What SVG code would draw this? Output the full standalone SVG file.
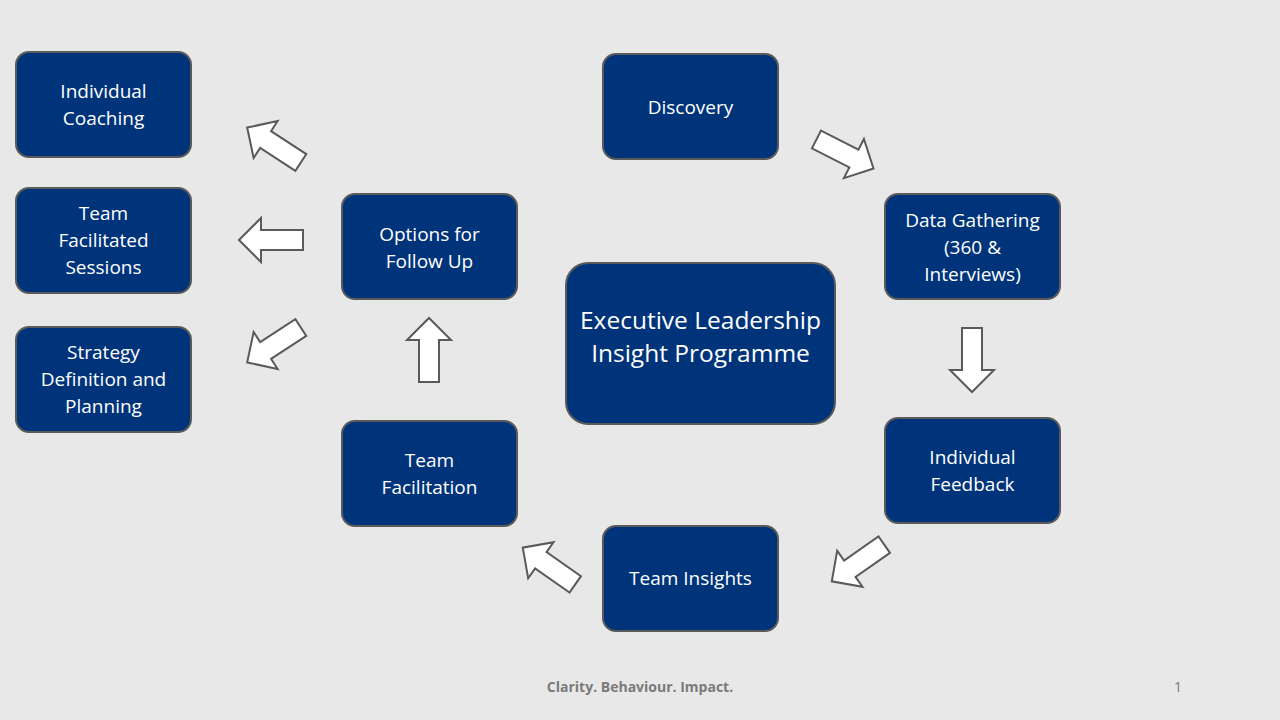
<svg xmlns="http://www.w3.org/2000/svg" width="1280" height="720" viewBox="0 0 1280 720">
<style>
.n{fill:#00347A;stroke:#5a5a5a;stroke-width:2}
.t{fill:#fff;font-family:"Open Sans","Noto Sans",sans-serif;font-size:19px;text-anchor:middle}
.c{font-size:24.5px}
.a{fill:#fff;stroke:#5a5a5a;stroke-width:2;stroke-linejoin:miter}
.f{fill:#7a7a7a;font-family:"Open Sans","Noto Sans",sans-serif;font-size:14px;font-weight:bold;text-anchor:middle}
</style>
<defs><path id="ar" d="M-32,-10 H10 V-22 L32,0 L10,22 V10 H-32 Z"/></defs>
<rect width="1280" height="720" fill="#E8E8E8"/>
<g id="connectors">
<use href="#ar" class="a" transform="translate(845,154) rotate(27)"/>
<use href="#ar" class="a" transform="translate(972,360) rotate(90)"/>
<use href="#ar" class="a" transform="translate(858,563) rotate(145)"/>
<use href="#ar" class="a" transform="translate(549,566) rotate(-145)"/>
<use href="#ar" class="a" transform="translate(429,350) rotate(-90)"/>
<use href="#ar" class="a" transform="translate(274,145) rotate(-147)"/>
<use href="#ar" class="a" transform="translate(271,240) rotate(180)"/>
<use href="#ar" class="a" transform="translate(274,345) rotate(147)"/>
</g>
<g id="ic"><rect class="n" x="16" y="52" width="175" height="105" rx="13"/><text class="t" x="103.5" y="98">Individual</text><text class="t" x="103.5" y="125">Coaching</text></g>
<g id="tfs"><rect class="n" x="16" y="188" width="175" height="105" rx="13"/><text class="t" x="103.5" y="220">Team</text><text class="t" x="103.5" y="247">Facilitated</text><text class="t" x="103.5" y="274">Sessions</text></g>
<g id="sdp"><rect class="n" x="16" y="327" width="175" height="105" rx="13"/><text class="t" x="103.5" y="359">Strategy</text><text class="t" x="103.5" y="386">Definition and</text><text class="t" x="103.5" y="413">Planning</text></g>
<g id="disc"><rect class="n" x="603" y="54" width="175" height="105" rx="13"/><text class="t" x="690.5" y="114">Discovery</text></g>
<g id="data"><rect class="n" x="885" y="194" width="175" height="105" rx="13"/><text class="t" x="972.5" y="227">Data Gathering</text><text class="t" x="972.5" y="254">(360 &amp;</text><text class="t" x="972.5" y="281">Interviews)</text></g>
<g id="if"><rect class="n" x="885" y="418" width="175" height="105" rx="13"/><text class="t" x="972.5" y="464">Individual</text><text class="t" x="972.5" y="491">Feedback</text></g>
<g id="ti"><rect class="n" x="603" y="526" width="175" height="105" rx="13"/><text class="t" x="690.5" y="585">Team Insights</text></g>
<g id="tf"><rect class="n" x="342" y="421" width="175" height="105" rx="13"/><text class="t" x="429.5" y="467">Team</text><text class="t" x="429.5" y="494">Facilitation</text></g>
<g id="opt"><rect class="n" x="342" y="194" width="175" height="105" rx="13"/><text class="t" x="429.5" y="241">Options for</text><text class="t" x="429.5" y="268">Follow Up</text></g>
<g id="center"><rect class="n" x="566" y="263" width="269" height="161" rx="22"/><text class="t c" x="700.5" y="329">Executive Leadership</text><text class="t c" x="700.5" y="362">Insight Programme</text></g>
<text class="f" x="640" y="692">Clarity. Behaviour. Impact.</text>
<text class="f" x="1178" y="692" style="font-weight:normal">1</text>
</svg>
